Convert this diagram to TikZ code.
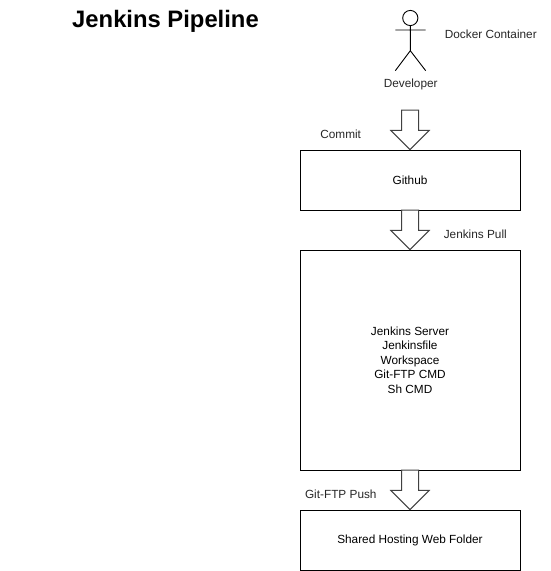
\documentclass[tikz,border=0pt]{standalone}
\usepackage{fontspec}
\setmainfont{Liberation Sans}
\usetikzlibrary{shapes.arrows}
\tikzset{x=1pt,y=-1pt,
box/.style={draw,line width=0.9pt,minimum width=220pt,align=center,font=\fontsize{11.8pt}{14.4pt}\selectfont,inner sep=0pt},
lbl/.style={font=\fontsize{11.8pt}{14pt}\selectfont,inner sep=0pt,text=black!85},
flow/.style={draw=black!75,fill=white,line width=1pt,single arrow,anchor=tip,shape border rotate=270,minimum height=39.5pt,single arrow head extend=10.75pt,single arrow tip angle=90,inner sep=8pt,outer sep=0pt}}
\begin{document}
\begin{tikzpicture}
\useasboundingbox (0,0) rectangle (551,571);
\node[font=\bfseries\fontsize{23.8pt}{26pt}\selectfont,inner sep=0pt] (title) at (165.5,21.5) {Jenkins Pipeline};
%developer
\draw[line width=0.9pt] (410.3,18) circle (7.6);
\coordinate (neck) at (410.3,25.6);
\coordinate (hip) at (410.3,50.7);
\draw[line width=0.9pt] (neck)--(hip) (395.3,30)--(425.7,30) (395.3,70.7)--(hip)--(425.7,70.7);
\node[lbl] (developer) at (410.7,84.5) {Developer};
\node[lbl] (docker) at (490.8,34.5) {Docker Container};
\node[box,minimum height=60pt] (github) at (410,180) {Github};
\node[box,minimum height=220pt] (server) at (410,360) {Jenkins Server\\Jenkinsfile\\Workspace\\Git-FTP CMD\\Sh CMD};
\node[box,minimum height=60pt] (hosting) at (410,540) {Shared Hosting Web Folder};
\node[flow] (commitarrow) at (github.north) {};
\node[flow] (pullarrow) at (server.north) {};
\node[flow] (pusharrow) at (hosting.north) {};
\node[lbl] (commit) at (340.7,134.5) {Commit};
\node[lbl] (pull) at (475.3,234.5) {Jenkins Pull};
\node[lbl] (push) at (340.8,494.5) {Git-FTP Push};
\end{tikzpicture}
\end{document}
